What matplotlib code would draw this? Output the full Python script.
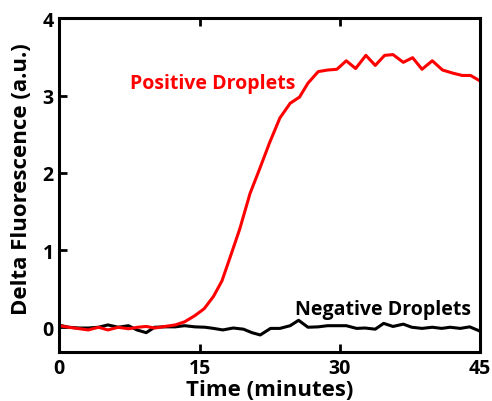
import matplotlib.pyplot as plt

# values (time in minutes, delta fluorescence a.u.)
pos_time = [0, 1.0, 3.1, 4.2, 5.2, 6.3, 7.4, 8.4, 9.3, 10.2, 11.3, 12.4, 13.4,
            14.5, 15.5, 16.5, 17.4, 18.4, 19.3, 20.4, 21.4, 22.5, 23.6, 24.7,
            25.7, 26.6, 27.7, 28.7, 29.7, 30.7, 31.7, 32.8, 33.8, 34.8, 35.7,
            36.8, 37.8, 38.8, 39.9, 41.0, 42.1, 43.1, 44.0, 45]
pos_val = [0.02, 0.0, -0.035, 0.0, -0.035, 0.0, -0.02, 0.0, 0.01, -0.01, 0.01,
           0.03, 0.07, 0.15, 0.24, 0.40, 0.60, 0.95, 1.27, 1.73, 2.04, 2.39,
           2.71, 2.90, 2.98, 3.16, 3.31, 3.33, 3.34, 3.45, 3.35, 3.52, 3.39,
           3.52, 3.53, 3.43, 3.49, 3.34, 3.45, 3.33, 3.29, 3.26, 3.26, 3.19]

neg_time = [0.25, 1.0, 2.1, 3.1, 4.2, 5.2, 6.3, 7.4, 8.3, 9.3, 10.2, 11.3, 12.4,
            13.4, 14.5, 15.6, 16.5, 17.5, 18.6, 19.7, 20.6, 21.5, 22.6, 23.6,
            24.7, 25.6, 26.6, 27.7, 28.7, 29.7, 30.7, 31.8, 32.7, 33.8, 34.7,
            35.7, 36.8, 37.7, 38.8, 39.9, 40.9, 41.8, 42.9, 43.9, 45]
neg_val = [0.02, 0.0, -0.01, -0.01, 0.0, 0.03, 0.0, 0.02, -0.035, -0.07, 0.0,
           0.005, 0.005, 0.02, 0.005, 0.0, -0.015, -0.035, -0.01, -0.025, -0.07,
           -0.10, -0.015, -0.015, 0.02, 0.09, 0.0, 0.005, 0.02, 0.02, 0.02,
           -0.015, -0.01, -0.025, 0.05, 0.01, 0.04, 0.0, -0.015, 0.0, -0.015,
           0.0, -0.015, 0.005, -0.05]

plt.rcParams['font.family'] = ['Open Sans', 'DejaVu Sans']
plt.rcParams['font.weight'] = 'bold'

fig = plt.figure(figsize=(4.92, 4.02), dpi=100)
ax = fig.add_axes([0.1205, 0.122, 0.855, 0.830])

ax.plot(neg_time, neg_val, color='black', lw=2.2)
ax.plot(pos_time, pos_val, color='#ff0000', lw=2.2)

ax.text(16.4, 3.16, 'Positive Droplets', color='#ff0000', fontsize=14,
        fontweight='bold', ha='center', va='center')
ax.text(34.6, 0.23, 'Negative Droplets', color='black', fontsize=14,
        fontweight='bold', ha='center', va='center')

ax.set_xlim(0, 45)
ax.set_ylim(-0.32, 4)
ax.set_xticks([0, 15, 30, 45])
ax.set_yticks([0, 1, 2, 3, 4])
ax.tick_params(direction='in', length=6, width=2, labelsize=14, top=True, pad=4)
for lab in ax.get_xticklabels() + ax.get_yticklabels():
    lab.set_fontweight('bold')
for sp in ax.spines.values():
    sp.set_linewidth(2.2)

ax.set_xlabel('Time (minutes)', fontsize=16, fontweight='bold')
ax.set_ylabel('Delta Fluorescence (a.u.)', fontsize=16, fontweight='bold')
ax.xaxis.set_label_coords(0.501, -0.082)
ax.yaxis.set_label_coords(-0.064, 0.52)

fig.savefig('out.png', dpi=100)
